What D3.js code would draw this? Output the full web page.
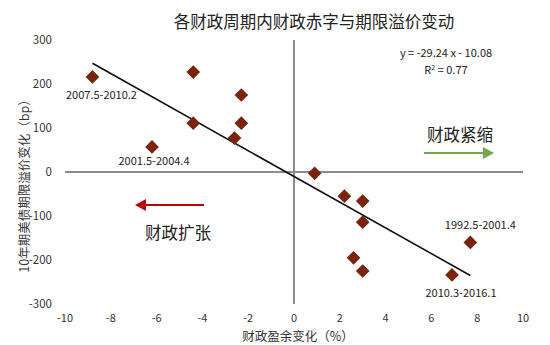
<!DOCTYPE html>
<html>
<head>
<meta charset="utf-8">
<script src="https://cdn.jsdelivr.net/npm/d3@7"></script>
<style>
  body { margin: 0; background: #fff; }
  svg { display: block; font-family: "Noto Sans CJK SC", "Noto Sans", sans-serif; }
</style>
</head>
<body>
<svg id="chart" width="550" height="345"></svg>
<script>
// fiscal surplus change (%) vs term premium change (bp)
const surplusChange = [-8.8, -4.4, -6.2, -4.4, -2.3, -2.3, -2.6, 0.9, 2.2, 3.0, 3.0, 2.6, 3.0, 6.9, 7.7];
const premiumChange = [216, 227, 57, 111, 175, 111, 77, -3, -55, -66, -114, -195, -225, -234, -160];
const xTicks = [-10, -8, -6, -4, -2, 0, 2, 4, 6, 8, 10];
const yTicks = [300, 200, 100, 0, -100, -200, -300];
const periodLabels = [
  { idx: 0, text: "2007.5-2010.2", dx: 9, dy: 22 },
  { idx: 2, text: "2001.5-2004.4", dx: 2, dy: 18 },
  { idx: 14, text: "1992.5-2001.4", dx: 10, dy: -13 },
  { idx: 13, text: "2010.3-2016.1", dx: 9, dy: 22 }
];
const slope = -29.24, intercept = -10.08;

const svg = d3.select("#chart");

const x = d3.scaleLinear().domain([-10, 10]).range([65, 523]);
const y = d3.scaleLinear().domain([-300, 300]).range([304, 40]);

// title
svg.append("text")
  .attr("x", 314).attr("y", 28)
  .attr("text-anchor", "middle")
  .attr("font-size", 16.5)
  .attr("fill", "#222")
  .text("各财政周期内财政赤字与期限溢价变动");

// axis lines through the origin
svg.append("line")
  .attr("x1", x(-10)).attr("x2", x(10))
  .attr("y1", y(0)).attr("y2", y(0))
  .attr("stroke", "#8c8c8c").attr("stroke-width", 2);
svg.append("line")
  .attr("x1", x(0)).attr("x2", x(0))
  .attr("y1", y(300)).attr("y2", y(-300))
  .attr("stroke", "#8c8c8c").attr("stroke-width", 2);

// tick labels
svg.append("g").selectAll("text")
  .data(xTicks)
  .join("text")
  .attr("x", d => x(d))
  .attr("y", 322)
  .attr("text-anchor", "middle")
  .attr("font-size", 11)
  .attr("fill", "#333")
  .text(d => d);

svg.append("g").selectAll("text")
  .data(yTicks)
  .join("text")
  .attr("x", 52)
  .attr("y", d => y(d) + 4)
  .attr("text-anchor", "end")
  .attr("font-size", 11.5)
  .attr("fill", "#333")
  .text(d => d);

// axis titles
svg.append("text")
  .attr("x", 298).attr("y", 341)
  .attr("text-anchor", "middle")
  .attr("font-size", 12.5)
  .attr("fill", "#333")
  .text("财政盈余变化（%）");

svg.append("text")
  .attr("transform", "translate(29,183) rotate(-90)")
  .attr("text-anchor", "middle")
  .attr("font-size", 12.5)
  .attr("fill", "#333")
  .text("10年期美债期限溢价变化（bp）");

// trend line over data extent
const xExt = d3.extent(surplusChange);
svg.append("line")
  .attr("x1", x(xExt[0])).attr("y1", y(slope * xExt[0] + intercept))
  .attr("x2", x(xExt[1])).attr("y2", y(slope * xExt[1] + intercept))
  .attr("stroke", "#111").attr("stroke-width", 1.6);

// points
const pts = surplusChange.map((v, i) => ({ sx: v, py: premiumChange[i] }));
svg.append("g").selectAll("path")
  .data(pts)
  .join("path")
  .attr("d", d3.symbol(d3.symbolDiamond2, 120))
  .attr("transform", d => `translate(${x(d.sx)},${y(d.py)})`)
  .attr("fill", "#7a2410");

// period labels
svg.append("g").selectAll("text")
  .data(periodLabels)
  .join("text")
  .attr("x", d => x(surplusChange[d.idx]) + d.dx)
  .attr("y", d => y(premiumChange[d.idx]) + d.dy)
  .attr("text-anchor", "middle")
  .attr("font-size", 11)
  .attr("fill", "#222")
  .text(d => d.text);

// regression equation
svg.append("text")
  .attr("x", 446).attr("y", 57)
  .attr("text-anchor", "middle")
  .attr("font-size", 11)
  .attr("fill", "#222")
  .text("y = -29.24 x - 10.08");
const r2 = svg.append("text")
  .attr("x", 446).attr("y", 74)
  .attr("text-anchor", "middle")
  .attr("font-size", 11)
  .attr("fill", "#222");
r2.append("tspan").text("R");
r2.append("tspan").attr("dy", -4).attr("font-size", 7).text("2");
r2.append("tspan").attr("dy", 4).text(" = 0.77");

// direction annotations
function arrow(x1, x2, yy, color) {
  const dir = x2 > x1 ? 1 : -1;
  svg.append("line")
    .attr("x1", x1).attr("x2", x2 - dir * 9)
    .attr("y1", yy).attr("y2", yy)
    .attr("stroke", color).attr("stroke-width", 1.8);
  svg.append("path")
    .attr("d", `M${x2},${yy} L${x2 - dir * 11},${yy - 6} L${x2 - dir * 11},${yy + 6} Z`)
    .attr("fill", color);
}
arrow(424, 494, 153, "#70a84e");
arrow(204, 135, 205, "#c00000");

svg.append("text")
  .attr("x", 460).attr("y", 141)
  .attr("text-anchor", "middle")
  .attr("font-size", 16.5)
  .attr("fill", "#222")
  .text("财政紧缩");
svg.append("text")
  .attr("x", 178).attr("y", 239)
  .attr("text-anchor", "middle")
  .attr("font-size", 16.5)
  .attr("fill", "#222")
  .text("财政扩张");
</script>
</body>
</html>
